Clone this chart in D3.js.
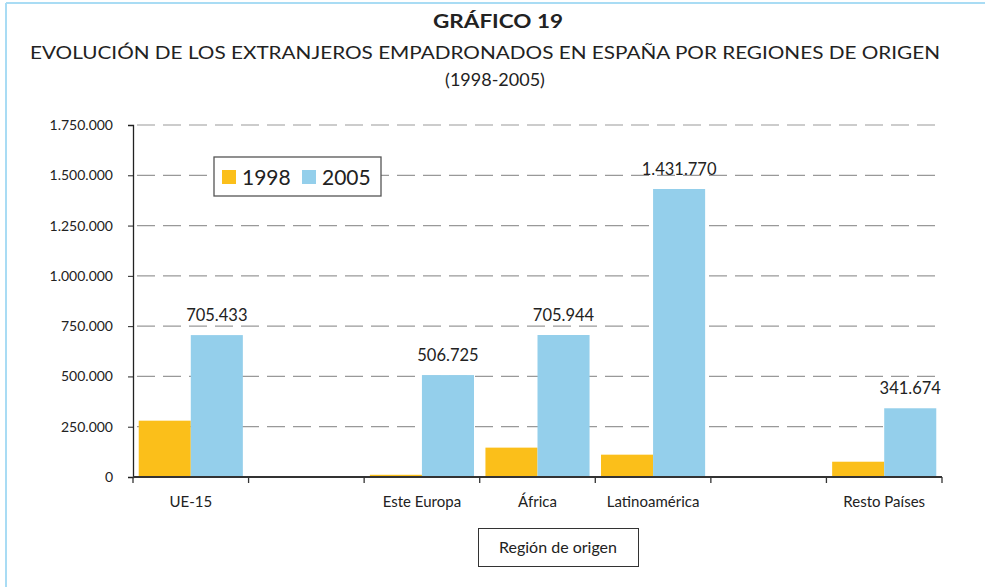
<html>
<head>
<meta charset="UTF-8"/>
<script src="https://d3js.org/d3.v7.min.js"></script>
<style>
body { margin:0; background:#fff; }
text { font-family: "Lato", "DejaVu Sans", sans-serif; fill:#222; }
</style>
</head>
<body>
<script>
// datos
const categories = ["UE-15", "", "Este Europa", "África", "Latinoamérica", "", "Resto Países"];
const series = ["1998", "2005"];
const values1998 = [280000, null, 11000, 146000, 111000, null, 76000];
const values2005 = [705433, null, 506725, 705944, 1431770, null, 341674];
const yTicks = [0, 250000, 500000, 750000, 1000000, 1250000, 1500000, 1750000];
const colors = ["#FBBF1A", "#94CFEB"];

const width = 985, height = 587;
const m = {left:133, right:43, top:125, bottom:110};

const es = d3.formatLocale({decimal:",", thousands:".", grouping:[3], currency:["","€"]});
const fmt = es.format(",d");

const svg = d3.select("body").append("svg")
  .attr("width", width).attr("height", height);

// marco azul
svg.append("line").attr("x1",6).attr("x2",width).attr("y1",3).attr("y2",3)
  .attr("stroke","#a9dcf4").attr("stroke-width",2);
svg.append("line").attr("x1",6).attr("x2",6).attr("y1",3).attr("y2",height)
  .attr("stroke","#a9dcf4").attr("stroke-width",2);

// títulos
svg.append("text").attr("x",498).attr("y",28).attr("text-anchor","middle")
  .attr("font-size",19).attr("font-weight","bold")
  .attr("textLength",130).attr("lengthAdjust","spacingAndGlyphs").text("GRÁFICO 19");
svg.append("text").attr("x",485).attr("y",59).attr("text-anchor","middle")
  .attr("font-size",18).attr("textLength",910).attr("lengthAdjust","spacingAndGlyphs")
  .text("EVOLUCIÓN DE LOS EXTRANJEROS EMPADRONADOS EN ESPAÑA POR REGIONES DE ORIGEN");
svg.append("text").attr("x",495).attr("y",86).attr("text-anchor","middle")
  .attr("font-size",18).text("(1998-2005)");

const x0 = d3.scaleBand().domain(d3.range(categories.length))
  .range([m.left, width - m.right]).paddingInner(0).paddingOuter(0);
const x1 = d3.scaleBand().domain(series).range([0, x0.bandwidth()])
  .paddingInner(0).paddingOuter(0.11);
const y = d3.scaleLinear().domain([0, 1750000]).range([height - m.bottom, m.top]);

// rejilla
svg.append("g").selectAll("line").data(yTicks.slice(1)).join("line")
  .attr("x1", m.left).attr("x2", width - m.right)
  .attr("y1", d => y(d)).attr("y2", d => y(d))
  .attr("stroke","#999").attr("stroke-width",1.2).attr("stroke-dasharray","18,8")
  .attr("stroke-dashoffset",-4);

// barras
const rows = categories.map((c,i) => ({i, vals:[values1998[i], values2005[i]]}));
const grp = svg.append("g").selectAll("g").data(rows).join("g")
  .attr("transform", d => `translate(${x0(d.i)},0)`);
grp.selectAll("rect").data(d => d.vals.map((v,k) => ({k, v})).filter(e => e.v != null))
  .join("rect")
  .attr("x", e => x1(series[e.k])).attr("width", x1.bandwidth())
  .attr("y", e => y(e.v)).attr("height", e => y(0) - y(e.v))
  .attr("fill", e => colors[e.k]);

// etiquetas de valor (2005)
grp.filter(d => d.vals[1] != null).append("text")
  .attr("x", x1("2005") + x1.bandwidth()/2)
  .attr("y", d => y(d.vals[1]) - 14)
  .attr("text-anchor","middle").attr("font-size",16.5)
  .text(d => fmt(d.vals[1]));

// eje Y
const yAxis = svg.append("g").attr("transform",`translate(${m.left},0)`)
  .call(d3.axisLeft(y).tickValues(yTicks).tickFormat(fmt).tickSize(5).tickPadding(15));
yAxis.select(".domain").attr("stroke","#222").attr("stroke-width",1.3);
yAxis.selectAll(".tick line").attr("stroke","#222");
yAxis.selectAll("text").attr("font-size",14).attr("font-family","Lato, sans-serif").attr("fill","#222");

// eje X
const xb = svg.append("g").attr("transform",`translate(0,${y(0)})`);
xb.append("line").attr("x1",m.left).attr("x2",width - m.right)
  .attr("stroke","#333").attr("stroke-width",2);
const bounds = d3.range(categories.length + 1).map(i => m.left + i * x0.step());
xb.selectAll(".tk").data(bounds).join("line").attr("class","tk")
  .attr("x1", d => d).attr("x2", d => d).attr("y1",0).attr("y2",6)
  .attr("stroke","#333").attr("stroke-width",1.3);
xb.selectAll(".lab").data(categories).join("text").attr("class","lab")
  .attr("x", (d,i) => x0(i) + x0.bandwidth()/2).attr("y",30)
  .attr("text-anchor","middle").attr("font-size",15).text(d => d);

// título eje X
svg.append("rect").attr("x",478.5).attr("y",528.5).attr("width",160).attr("height",38)
  .attr("fill","#fff").attr("stroke","#333").attr("stroke-width",1);
svg.append("text").attr("x",558).attr("y",553).attr("text-anchor","middle")
  .attr("font-size",16).text("Región de origen");

// leyenda
const lg = svg.append("g").attr("transform","translate(214,157)");
lg.append("rect").attr("width",167).attr("height",39).attr("fill","#fff")
  .attr("stroke","#555").attr("stroke-width",1.3);
const li = lg.selectAll("g").data(series).join("g")
  .attr("transform",(d,i) => `translate(${8 + i*80},13)`);
li.append("rect").attr("width",14).attr("height",14).attr("fill",(d,i) => colors[i]);
li.append("text").attr("x",20).attr("y",15).attr("font-size",21).text(d => d);
</script>
</body>
</html>
